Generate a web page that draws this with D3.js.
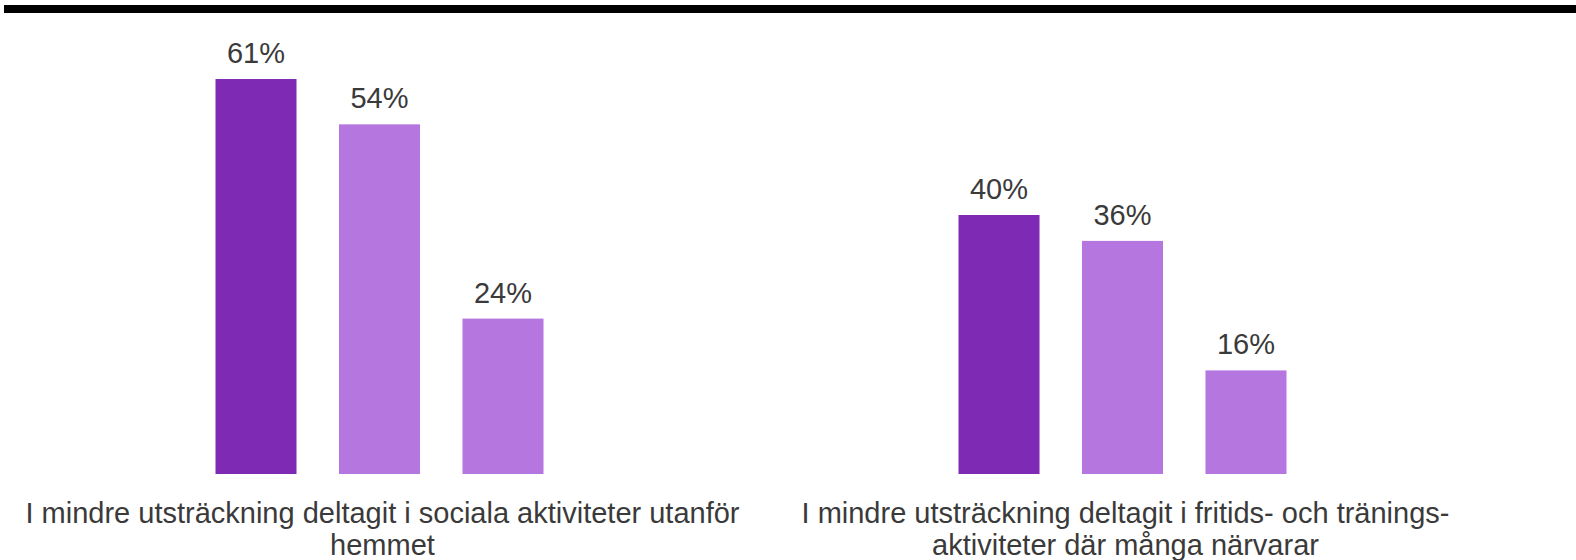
<!DOCTYPE html>
<html><head><meta charset="utf-8">
<script src="https://cdn.jsdelivr.net/npm/d3@7"></script>
<style>body{margin:0;background:#fff}svg{display:block}</style>
</head><body>
<svg id="c" width="1576" height="560"></svg>
<script>
const categories = [
  ["I mindre utsträckning deltagit i sociala aktiviteter utanför", "hemmet"],
  ["I mindre utsträckning deltagit i fritids- och tränings-", "aktiviteter där många närvarar"]
];
const seriesNames = ["s1", "s2", "s3"];
const values = [
  [0.61, 0.54, 0.24],
  [0.40, 0.36, 0.16]
];
const colors = ["#7F2AB4", "#B576E0", "#B576E0"];

const svg = d3.select("#c");
const font = "'Liberation Sans', Arial, sans-serif";

svg.append("rect").attr("x", 4).attr("y", 5).attr("width", 1572).attr("height", 8).attr("fill", "#000");

const x0 = d3.scaleBand().domain(d3.range(categories.length)).range([8, 1494]).paddingInner(0).paddingOuter(0);
const half = x0.bandwidth() / 2;
const x1 = d3.scaleBand().domain(seriesNames).range([half - 164, half + 164]).paddingInner(0.344).paddingOuter(0);
const y = d3.scaleLinear().domain([0, 0.7]).range([474, 474 - 0.7 * 647.5]);
const fmt = d3.format(".0%");

const g = svg.selectAll("g.grp").data(values).join("g").attr("class", "grp")
  .attr("transform", (d, i) => `translate(${x0(i)},0)`);

g.selectAll("rect").data(d => d.map((v, j) => ({v, j}))).join("rect")
  .attr("x", d => x1(seriesNames[d.j]))
  .attr("width", x1.bandwidth())
  .attr("y", d => y(d.v))
  .attr("height", d => y(0) - y(d.v))
  .attr("fill", d => colors[d.j]);

g.selectAll("text.val").data(d => d.map((v, j) => ({v, j}))).join("text").attr("class", "val")
  .attr("x", d => x1(seriesNames[d.j]) + x1.bandwidth()/2)
  .attr("y", d => y(d.v) - 16)
  .attr("text-anchor", "middle")
  .attr("font-family", font).attr("font-size", 29).attr("fill", "#3a3a3a")
  .text(d => fmt(d.v));

categories.forEach((lines, i) => {
  const cx = x0(i) + half + 3;
  lines.forEach((t, k) => {
    svg.append("text")
      .attr("x", cx).attr("y", 523 + k * 32)
      .attr("text-anchor", "middle")
      .attr("font-family", font).attr("font-size", 29).attr("fill", "#3a3a3a")
      .text(t);
  });
});
</script>
</body></html>
